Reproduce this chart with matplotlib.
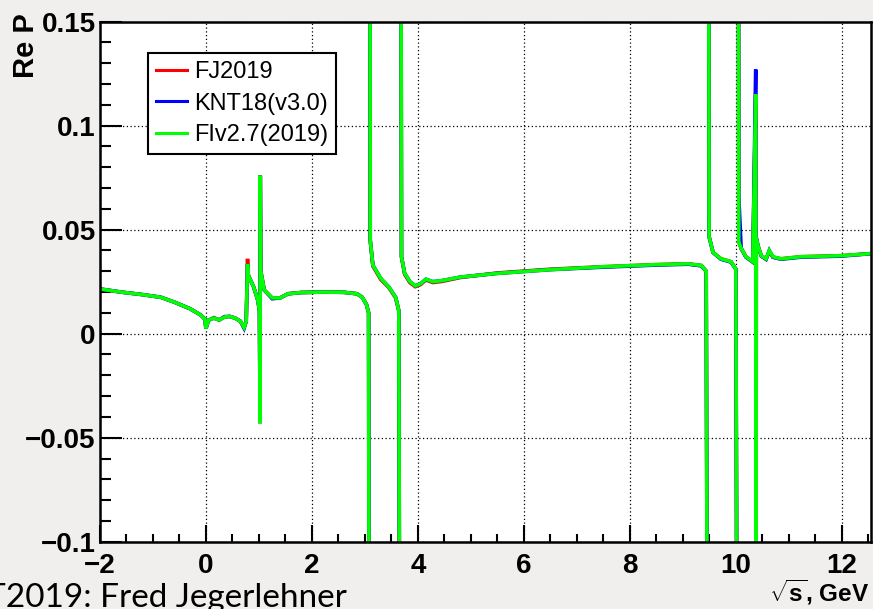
import matplotlib
matplotlib.use('Agg')
import matplotlib.pyplot as plt
import numpy as np
from matplotlib.ticker import MultipleLocator

nan = np.nan

# sqrt(s) in GeV, nan breaks the line at the narrow resonances
x_gev = [-2.00, -1.60, -1.20, -0.85, -0.60, -0.30, -0.10, -0.02, 0.00, 0.05,
         0.15, 0.25, 0.35, 0.45, 0.55, 0.65, 0.72, 0.76, 0.785, 0.80,
         0.90, 0.98, 1.010, 1.022, 1.025, 1.035, 1.10, 1.25, 1.40, 1.55,
         1.80, 2.20, 2.60, 2.85, 2.95, 3.03, 3.07, 3.085, nan, 3.095,
         3.10, 3.15, 3.30, 3.45, 3.58, 3.64, 3.665, nan, 3.675, 3.69,
         3.75, 3.85, 3.95, 4.05, 4.15, 4.28, 4.45, 4.80, 5.50, 6.50,
         7.50, 8.50, 9.10, 9.35, 9.44, 9.475, nan, 9.485, 9.495, 9.57,
         9.72, 9.91, 10.00, 10.035, nan, 10.045, 10.055, 10.10, 10.19, 10.32,
         10.375, 10.38, 10.385, 10.42, 10.48, 10.57, 10.63, 10.70, 10.85, 11.23,
         11.99, 12.55]

re_p_fiv = [0.0215, 0.0200, 0.0188, 0.0175, 0.0152, 0.0120, 0.0090, 0.0070, 0.0025, 0.0065,
            0.0075, 0.0066, 0.0080, 0.0083, 0.0075, 0.0060, 0.0030, 0.0060, 0.0335, 0.0280,
            0.0225, 0.0160, 0.0110, -0.0430, 0.0760, 0.0300, 0.0210, 0.0172, 0.0172, 0.0192,
            0.0198, 0.0200, 0.0199, 0.0192, 0.0175, 0.0140, 0.0100, -0.3, nan, 0.3,
            0.0450, 0.0330, 0.0265, 0.0225, 0.0175, 0.0110, -0.3, nan, 0.3, 0.0370,
            0.0290, 0.0250, 0.0230, 0.0240, 0.0262, 0.0250, 0.0255, 0.0272, 0.0290, 0.0308,
            0.0322, 0.0332, 0.0336, 0.0328, 0.0300, -0.3, nan, 0.3, 0.0466, 0.0390,
            0.0360, 0.0346, 0.0310, -0.3, nan, 0.3, 0.0440, 0.0410, 0.0370, 0.0346,
            0.1150, -0.3, 0.0460, 0.0420, 0.0375, 0.0360, 0.0400, 0.0370, 0.0360, 0.0370,
            0.0375, 0.0385]

re_p_fj = [0.0215, 0.0200, 0.0188, 0.0175, 0.0152, 0.0120, 0.0090, 0.0070, 0.0025, 0.0065,
           0.0077, 0.0066, 0.0080, 0.0083, 0.0075, 0.0060, 0.0030, 0.0060, 0.0360, 0.0280,
           0.0225, 0.0160, 0.0110, -0.0430, 0.0760, 0.0300, 0.0210, 0.0172, 0.0172, 0.0192,
           0.0198, 0.0200, 0.0199, 0.0192, 0.0175, 0.0140, 0.0100, -0.3, nan, 0.3,
           0.0450, 0.0325, 0.0260, 0.0222, 0.0172, 0.0110, -0.3, nan, 0.3, 0.0370,
           0.0285, 0.0245, 0.0226, 0.0236, 0.0258, 0.0246, 0.0251, 0.0270, 0.0292, 0.0310,
           0.0322, 0.0332, 0.0336, 0.0328, 0.0300, -0.3, nan, 0.3, 0.0466, 0.0390,
           0.0360, 0.0346, 0.0310, -0.3, nan, 0.3, 0.0440, 0.0410, 0.0370, 0.0346,
           0.1150, -0.3, 0.0460, 0.0420, 0.0375, 0.0358, 0.0395, 0.0368, 0.0360, 0.0370,
           0.0375, 0.0385]

re_p_knt = [0.0215, 0.0200, 0.0188, 0.0175, 0.0152, 0.0120, 0.0090, 0.0070, 0.0025, 0.0065,
            0.0075, 0.0066, 0.0082, 0.0083, 0.0075, 0.0060, 0.0026, 0.0060, 0.0335, 0.0280,
            0.0225, 0.0160, 0.0110, -0.0430, 0.0760, 0.0300, 0.0210, 0.0168, 0.0172, 0.0192,
            0.0198, 0.0200, 0.0199, 0.0192, 0.0175, 0.0140, 0.0100, -0.3, nan, 0.3,
            0.0450, 0.0330, 0.0265, 0.0225, 0.0175, 0.0110, -0.3, nan, 0.3, 0.0370,
            0.0290, 0.0250, 0.0230, 0.0240, 0.0262, 0.0250, 0.0255, 0.0272, 0.0290, 0.0308,
            0.0320, 0.0330, 0.0334, 0.0326, 0.0300, -0.3, nan, 0.3, 0.0466, 0.0390,
            0.0358, 0.0344, 0.0310, -0.3, nan, 0.3, 0.0660, 0.0410, 0.0368, 0.0344,
            0.1270, -0.3, 0.0460, 0.0420, 0.0373, 0.0358, 0.0400, 0.0368, 0.0358, 0.0368,
            0.0373, 0.0385]

series = [('FJ2019', re_p_fj, '#ff0000'),
          ('KNT18(v3.0)', re_p_knt, '#0000ff'),
          ('FIv2.7(2019)', re_p_fiv, '#00ff00')]

plt.rcParams['font.family'] = ['Liberation Sans', 'DejaVu Sans']
plt.rcParams['mathtext.fontset'] = 'custom'
plt.rcParams['mathtext.rm'] = 'Liberation Sans:bold'
plt.rcParams['mathtext.it'] = 'Liberation Sans:bold'
plt.rcParams['mathtext.bf'] = 'Liberation Sans:bold'

fig = plt.figure(figsize=(8.73, 6.09), dpi=100, facecolor='#f1efed')
ax = fig.add_axes([0.1145, 0.1105, 0.8832, 0.8539])
ax.set_facecolor('white')

xs = np.array(x_gev, dtype=float)
for name, vals, col in series:
    ax.plot(xs, np.array(vals, dtype=float), '-', color=col, lw=2.6, label=name,
            solid_joinstyle='miter')

ax.set_xlim(-2, 12.55)
ax.set_ylim(-0.1, 0.15)

ax.xaxis.set_major_locator(MultipleLocator(2))
ax.xaxis.set_minor_locator(MultipleLocator(0.5))
ax.yaxis.set_major_locator(MultipleLocator(0.05))
ax.yaxis.set_minor_locator(MultipleLocator(0.01))
ax.set_yticks([-0.1, -0.05, 0, 0.05, 0.1, 0.15])
ax.set_yticklabels(['\u22120.1', '\u22120.05', '0', '0.05', '0.1', '0.15'])
ax.set_xticks([-2, 0, 2, 4, 6, 8, 10, 12])
ax.set_xticklabels(['\u22122', '0', '2', '4', '6', '8', '10', '12'])

ax.grid(True, which='major', color='black', linestyle=(0, (1, 2)), linewidth=0.9)
ax.tick_params(axis='both', which='both', direction='in', width=1.5, colors='black',
               top=False, right=False)
ax.tick_params(axis='y', which='major', length=16, pad=3)
ax.tick_params(axis='y', which='minor', length=8)
ax.tick_params(axis='x', which='major', length=12, pad=8)
ax.tick_params(axis='x', which='minor', length=6)
for lab in ax.get_xticklabels() + ax.get_yticklabels():
    lab.set_fontsize(20)
    lab.set_fontweight('bold')
for sp in ax.spines.values():
    sp.set_linewidth(1.8)

leg = ax.legend(loc='upper left', bbox_to_anchor=(0.062, 0.94), borderaxespad=0,
                fancybox=False, edgecolor='black', framealpha=1, fontsize=17,
                handlelength=1.3, handletextpad=0.3, labelspacing=0.4,
                borderpad=0.35)
leg.get_frame().set_linewidth(1.5)
for h in leg.get_lines():
    h.set_linewidth(2.2)

fig.text(0.03, 0.925, 'Re P', rotation=90, fontsize=21, fontweight='bold',
         ha='center', va='center')
fig.text(0.995, 0.028, r'$\sqrt{s}$, GeV', fontsize=17.5, fontweight='bold',
         ha='right', va='center')
fig.text(-0.016, 0.043, 'T2019: Fred Jegerlehner', fontsize=24, ha='left',
         va='top', family=['Lato', 'DejaVu Sans'])

fig.savefig('out.png', dpi=100, facecolor=fig.get_facecolor())
